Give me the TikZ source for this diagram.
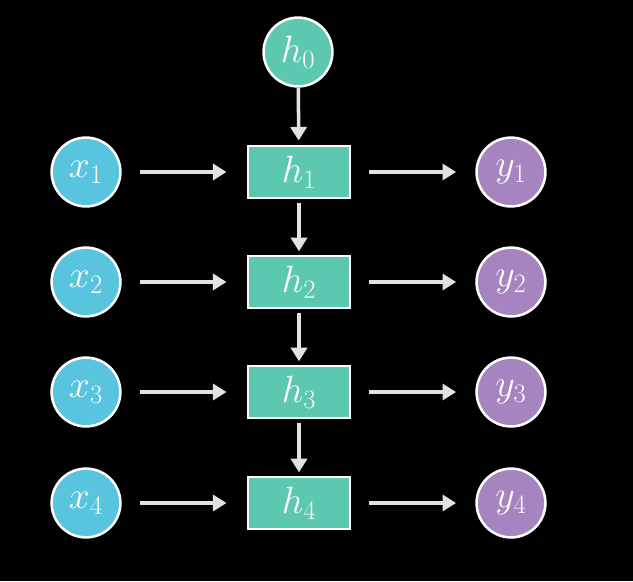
\documentclass[tikz,border=0pt]{standalone}
\usepackage{fix-cm}
\usetikzlibrary{arrows.meta}
\definecolor{xblue}{HTML}{58C4DD}
\definecolor{hteal}{HTML}{5CC8B0}
\definecolor{ypurple}{HTML}{A584BF}
\definecolor{edgegray}{HTML}{E2E2E2}
\begin{document}
\begin{tikzpicture}[x=0.025cm,y=-0.025cm,
  state/.style={circle,draw=white,line width=1.8pt,minimum size=1.72cm,inner sep=0pt,
    text=white,font=\fontsize{27}{30}\selectfont},
  hidden/.style={rectangle,fill=hteal,draw=white,line width=1.5pt,minimum width=2.57cm,
    minimum height=1.28cm,inner sep=0pt,text=white,font=\fontsize{27}{30}\selectfont},
  flow/.style={draw=edgegray,line width=2.5pt,-{Triangle[length=0.34cm,width=0.4cm]}}]
\fill[black] (0,0) rectangle (633,581);
\node[state,fill=hteal] (h0) at (298,52) {$h_0$};
\foreach \i/\y in {1/172,2/282,3/392,4/503}{
  \node[state,fill=xblue] (x\i) at (86,\y) {$x_\i$};
  \node[hidden] (h\i) at (299,\y) {$h_\i$};
  \node[state,fill=ypurple] (y\i) at (511,\y) {$y_\i$};
  \draw[flow,shorten <=0.45cm,shorten >=0.5cm] (x\i) -- (h\i);
  \draw[flow,shorten <=0.45cm,shorten >=0.48cm] (h\i) -- (y\i);
}
% recurrence down the column
\draw[flow,shorten >=0.12cm] (h0) -- (h1);
\foreach \a/\b in {h1/h2,h2/h3,h3/h4}
  \draw[flow,shorten <=0.1cm,shorten >=0.1cm] (\a) -- (\b);
\end{tikzpicture}
\end{document}
